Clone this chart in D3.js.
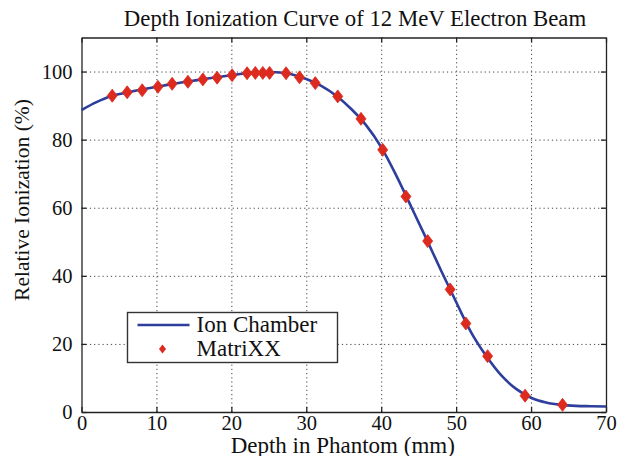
<!DOCTYPE html>
<html>
<head>
<meta charset="utf-8">
<script src="https://cdn.jsdelivr.net/npm/d3@7"></script>
<style>
  body { margin: 0; background: #fff; }
  svg { display: block; }
  svg text { font-family: "Liberation Serif", "Times New Roman", "DejaVu Serif", serif !important; }
  .grid line { stroke: #444; stroke-width: 1; stroke-dasharray: 1.2,3; }
  .grid path { display: none; }
  .axis path, .axis line { stroke: #222; stroke-width: 1.3; }
  .axis text { fill: #111; font-size: 20.5px; }
</style>
</head>
<body>
<svg width="619" height="456"></svg>
<script>
// Ion chamber curve (depth mm, relative ionization %)
const chamberDepth = [0, 2, 4, 6, 8, 10, 12, 14, 16, 18, 20, 22, 24, 26, 28, 30, 32, 34, 36, 38, 40,
  42, 44, 46, 48, 50, 52, 54, 56, 58, 60, 62, 64, 66, 68, 70];
const chamberValue = [88.7, 91.0, 92.8, 93.8, 94.7, 95.5, 96.3, 97.0, 97.7, 98.3, 98.9, 99.5, 99.8, 99.8,
  99.2, 97.8, 95.8, 92.9, 89.0, 84.2, 77.8, 69.5, 60.3, 51.0, 41.5, 32.3, 23.4, 16.5, 10.8, 6.8, 4.2,
  2.8, 2.1, 1.8, 1.7, 1.6];

// MatriXX points
const matrixDepth = [4.1, 6.1, 8.1, 10.2, 12.1, 14.2, 16.2, 18.1, 20.1, 22.1, 23.2, 24.2, 25.1, 27.3,
  29.1, 31.2, 34.2, 37.3, 40.2, 43.3, 46.2, 49.2, 51.3, 54.2, 59.2, 64.2];
const matrixValue = [92.9, 93.9, 94.5, 95.5, 96.4, 97.0, 97.7, 98.2, 98.9, 99.5, 99.6, 99.6, 99.6, 99.5,
  98.3, 96.6, 92.7, 86.1, 77.0, 63.3, 50.2, 36.0, 26.0, 16.4, 4.8, 2.1];

const xTicks = [0, 10, 20, 30, 40, 50, 60, 70];
const yTicks = [0, 20, 40, 60, 80, 100];
const seriesNames = ['Ion Chamber', 'MatriXX'];
const titleText = 'Depth Ionization Curve of 12 MeV Electron Beam';
const xLabel = 'Depth in Phantom (mm)';
const yLabel = 'Relative Ionization (%)';

const plotLeft = 81.5, plotRight = 606, plotTop = 37.5, plotBottom = 412;
const lineColor = '#2d3e9c';
const dotColor = '#dd2a1f';
const serif = '"Liberation Serif", "Times New Roman", "DejaVu Serif", serif';

const svg = d3.select('svg');

const x = d3.scaleLinear().domain([0, 70]).range([plotLeft, plotRight]);
const y = d3.scaleLinear().domain([0, 110]).range([plotBottom, plotTop]);

// grid
svg.append('g')
    .attr('class', 'grid')
    .attr('transform', 'translate(0,' + plotBottom + ')')
    .call(d3.axisBottom(x).tickValues(xTicks.slice(1, -1)).tickSize(-(plotBottom - plotTop)).tickFormat(''));
svg.append('g')
    .attr('class', 'grid')
    .attr('transform', 'translate(' + plotLeft + ',0)')
    .call(d3.axisLeft(y).tickValues(yTicks.slice(1)).tickSize(-(plotRight - plotLeft)).tickFormat(''));

// axes (box with inward ticks)
const xAxisG = svg.append('g')
    .attr('class', 'axis')
    .attr('transform', 'translate(0,' + plotBottom + ')')
    .call(d3.axisBottom(x).tickValues(xTicks).tickSizeInner(-5).tickSizeOuter(0).tickPadding(6));
xAxisG.selectAll('text').attr('dy', '0.6em');
svg.append('g')
    .attr('class', 'axis')
    .attr('transform', 'translate(0,' + plotTop + ')')
    .call(d3.axisTop(x).tickValues(xTicks).tickSizeInner(-5).tickSizeOuter(0).tickFormat(''));
svg.append('g')
    .attr('class', 'axis')
    .attr('transform', 'translate(' + plotLeft + ',0)')
    .call(d3.axisLeft(y).tickValues(yTicks).tickSizeInner(-5).tickSizeOuter(0).tickPadding(9));
svg.append('g')
    .attr('class', 'axis')
    .attr('transform', 'translate(' + plotRight + ',0)')
    .call(d3.axisRight(y).tickValues(yTicks).tickSizeInner(-5).tickSizeOuter(0).tickFormat(''));

svg.selectAll('.axis').attr('font-family', serif);

// curve
const line = d3.line()
    .x((d, i) => x(chamberDepth[i]))
    .y(d => y(d))
    .curve(d3.curveMonotoneX);

svg.append('path')
    .datum(chamberValue)
    .attr('fill', 'none')
    .attr('stroke', lineColor)
    .attr('stroke-width', 2.6)
    .attr('d', line);

const diamond = (w, h) => 'M0,' + (-h / 2) + 'L' + (w / 2) + ',0L0,' + (h / 2) + 'L' + (-w / 2) + ',0Z';

svg.append('g')
    .selectAll('path')
    .data(matrixValue)
    .enter()
    .append('path')
    .attr('transform', (d, i) => 'translate(' + x(matrixDepth[i]) + ',' + y(d) + ')')
    .attr('d', diamond(10, 13))
    .attr('fill', dotColor)
    .attr('stroke', dotColor)
    .attr('stroke-width', 0.8);

// title & labels
svg.append('text')
    .attr('x', 355)
    .attr('y', 26)
    .attr('text-anchor', 'middle')
    .attr('font-family', serif)
    .attr('font-size', 22.8)
    .attr('fill', '#111')
    .text(titleText);

svg.append('text')
    .attr('x', (plotLeft + plotRight) / 2 - 1)
    .attr('y', 452.5)
    .attr('text-anchor', 'middle')
    .attr('font-family', serif)
    .attr('font-size', 23)
    .attr('fill', '#111')
    .text(xLabel);

svg.append('text')
    .attr('transform', 'translate(29,' + 200 + ') rotate(-90)')
    .attr('text-anchor', 'middle')
    .attr('font-family', serif)
    .attr('font-size', 21.5)
    .attr('fill', '#111')
    .text(yLabel);

// legend
const legend = svg.append('g').attr('transform', 'translate(127.5,312.5)');
legend.append('rect')
    .attr('width', 210)
    .attr('height', 50)
    .attr('fill', '#fff')
    .attr('stroke', '#333')
    .attr('stroke-width', 1.4);
legend.append('line')
    .attr('x1', 10).attr('x2', 62)
    .attr('y1', 12.5).attr('y2', 12.5)
    .attr('stroke', lineColor)
    .attr('stroke-width', 2.6);
legend.append('path')
    .attr('transform', 'translate(35,36.5)')
    .attr('d', diamond(7, 9))
    .attr('fill', dotColor);
legend.selectAll('text.lab')
    .data(seriesNames)
    .enter()
    .append('text')
    .attr('class', 'lab')
    .attr('x', 69)
    .attr('y', (d, i) => 19.5 + i * 24)
    .attr('font-family', serif)
    .attr('font-size', 23)
    .attr('fill', '#111')
    .text(d => d);
</script>
</body>
</html>
